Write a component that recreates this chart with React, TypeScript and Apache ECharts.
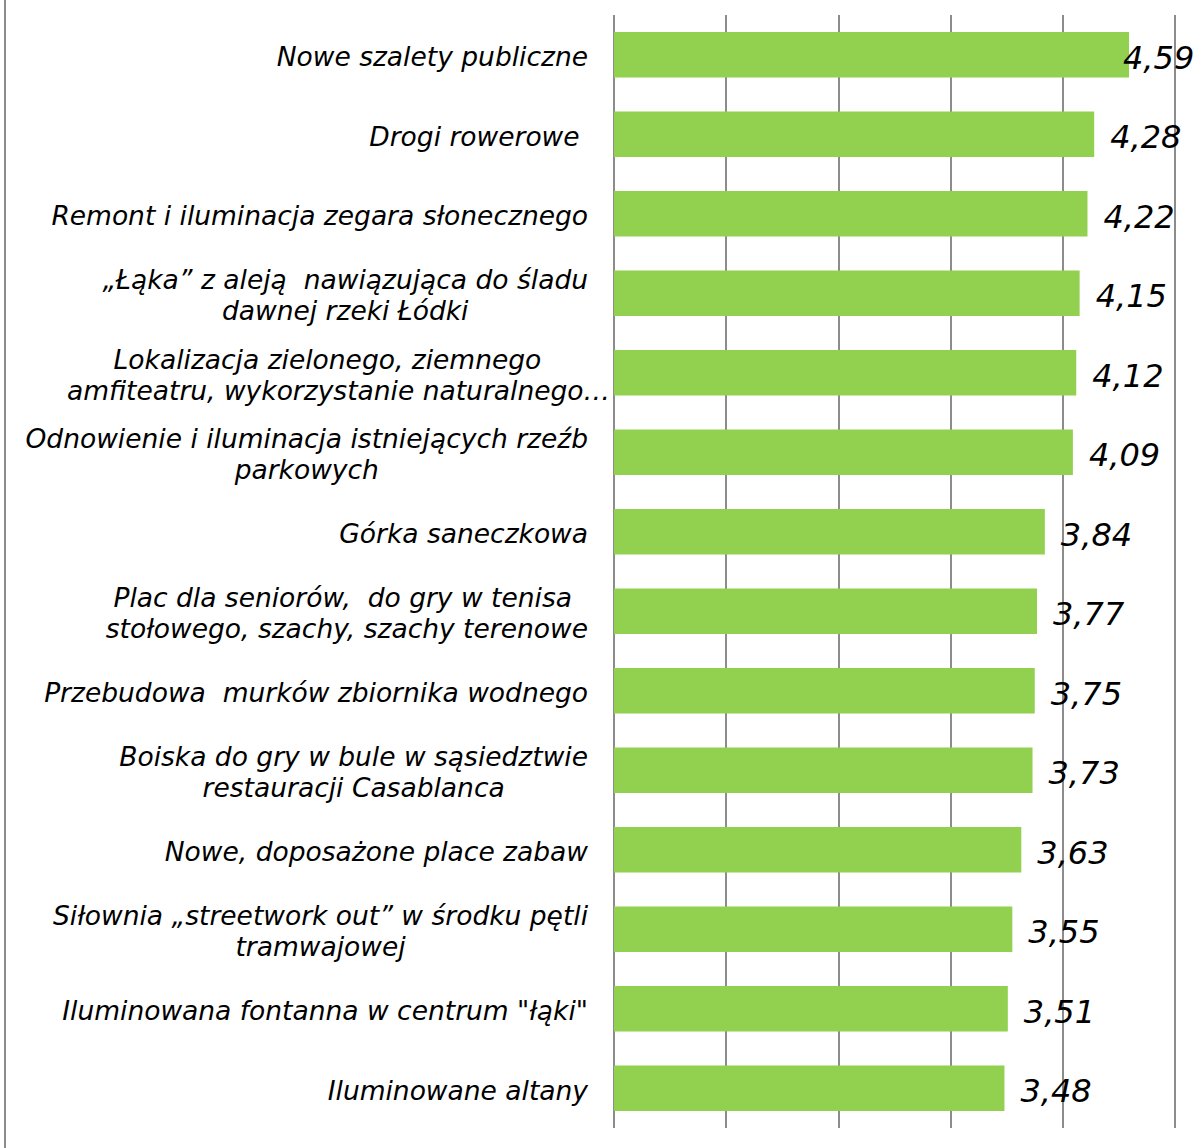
import React, { useEffect, useRef } from "react";
import * as echarts from "echarts";

const categories: string[] = [
  "Nowe szalety publiczne",
  "Drogi rowerowe ",
  "Remont i iluminacja zegara słonecznego",
  "„Łąka” z aleją  nawiązująca do śladu\ndawnej rzeki Łódki",
  "Lokalizacja zielonego, ziemnego\namfiteatru, wykorzystanie naturalnego…",
  "Odnowienie i iluminacja istniejących rzeźb\nparkowych",
  "Górka saneczkowa",
  "Plac dla seniorów,  do gry w tenisa \nstołowego, szachy, szachy terenowe",
  "Przebudowa  murków zbiornika wodnego",
  "Boiska do gry w bule w sąsiedztwie\nrestauracji Casablanca",
  "Nowe, doposażone place zabaw",
  "Siłownia „streetwork out” w środku pętli\ntramwajowej",
  "Iluminowana fontanna w centrum \"łąki\"",
  "Iluminowane altany",
];

const values: number[] = [4.59, 4.28, 4.22, 4.15, 4.12, 4.09, 3.84, 3.77, 3.75, 3.73, 3.63, 3.55, 3.51, 3.48];

const axisMin = 0;
const axisMax = 5;
const axisInterval = 1;

const FONT = "'DejaVu Sans', Verdana, sans-serif";
const GRID_COLOR = "#8c8c8c";
const BAR_COLOR = "#92D050";

const labelText = {
  align: "center",
  fontSize: 26.5,
  fontStyle: "italic",
  fontFamily: FONT,
  color: "#000000",
  lineHeight: 31,
};

export default function App() {
  const ref = useRef<HTMLDivElement>(null);

  useEffect(() => {
    if (!ref.current) return;
    const chart = echarts.init(ref.current, null, { renderer: "svg" });

    const seriesData = values.map((v, i) =>
      i === 0 ? { value: v, label: { offset: [-22, 3] } } : { value: v }
    );

    chart.setOption({
      animation: false,
      backgroundColor: "#ffffff",
      grid: { left: 614, right: 23, top: 15, bottom: 20, containLabel: false },
      xAxis: {
        type: "value",
        min: axisMin,
        max: axisMax,
        interval: axisInterval,
        axisLabel: { show: false },
        axisLine: { show: false },
        axisTick: { show: false },
        splitLine: { show: true, lineStyle: { color: GRID_COLOR, width: 2 } },
      },
      yAxis: {
        type: "category",
        inverse: true,
        data: categories,
        axisLine: { show: false },
        axisTick: { show: false },
        axisLabel: {
          margin: 26,
          padding: [4, 0, 0, 0],
          formatter: (val: string) =>
            val
              .split("\n")
              .map((line) => (line.endsWith("…") ? `{w|${line}}` : `{c|${line}}`))
              .join("\n"),
          rich: {
            c: { ...labelText },
            w: { ...labelText, padding: [0, -22, 0, 0] },
          },
        },
      },
      series: [
        {
          type: "bar",
          data: seriesData,
          barCategoryGap: "43%",
          itemStyle: { color: BAR_COLOR },
          label: {
            show: true,
            position: "right",
            distance: 16,
            offset: [0, 3],
            fontSize: 32,
            fontStyle: "italic",
            fontFamily: FONT,
            color: "#000000",
            formatter: (p: any) => Number(p.value).toFixed(2).replace(".", ","),
          },
        },
      ],
      graphic: [
        {
          type: "line",
          shape: { x1: 5, y1: 0, x2: 5, y2: 1148 },
          style: { stroke: GRID_COLOR, lineWidth: 2 },
        },
      ],
    });

    return () => chart.dispose();
  }, []);

  return (
    <div
      ref={ref}
      style={{ position: "fixed", left: 0, top: 0, width: 1198, height: 1148 }}
    />
  );
}
